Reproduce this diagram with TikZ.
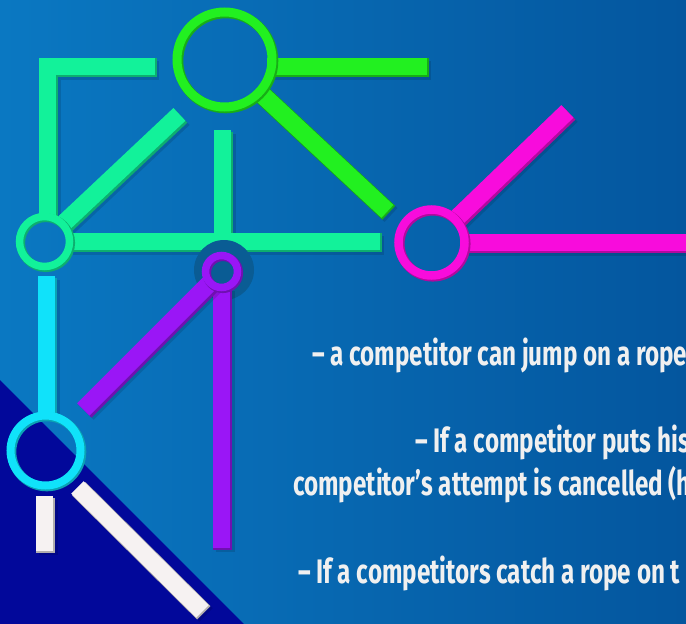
\documentclass[tikz,border=0pt]{standalone}
\usepackage{fontspec}
\newfontfamily\condfont[FakeStretch=0.712]{Fira Sans}
\usetikzlibrary{calc}
\definecolor{bgl}{HTML}{0A78C2}
\definecolor{bgr}{HTML}{04569E}
\definecolor{navy}{HTML}{02089A}
\definecolor{halo}{HTML}{0A5C94}
\definecolor{cgreen}{HTML}{22F020}
\definecolor{cmint}{HTML}{12F29A}
\definecolor{cpurple}{HTML}{9A16F6}
\definecolor{cmagenta}{HTML}{F80CDC}
\definecolor{ccyan}{HTML}{10E2FA}
\definecolor{cwhite}{HTML}{F6F2F2}
\definecolor{txt}{HTML}{F0F0F0}
\newcommand\myrod[3]{%
  \draw[line width=19pt, black, opacity=0.12] ([shift={(3,3)}]#2) -- ([shift={(3,3)}]#3);
  \draw[line width=19pt, #1!72!black] ([shift={(0.8,0.8)}]#2) -- ([shift={(0.8,0.8)}]#3);
  \draw[line width=17.5pt, #1] ([shift={(-0.6,-0.6)}]#2) -- ([shift={(-0.6,-0.6)}]#3);}
\newcommand\myring[4]{% color, centre, radius, width
  \draw[line width=#4+1pt, #1!72!black] ([shift={(0.8,0.8)}]#2) circle[radius=#3];
  \draw[line width=#4, #1] ([shift={(-0.5,-0.5)}]#2) circle[radius=#3];}
\tikzset{linetext/.style={anchor=base west, inner sep=0pt, text=txt,
  font=\condfont\bfseries\fontsize{34}{38}\selectfont}}
\begin{document}
\begin{tikzpicture}[x=1pt,y=-1pt]
\useasboundingbox (0,0) rectangle (686,624);
\clip (0,0) rectangle (686,624);
\shade[left color=bgl, right color=bgr] (0,0) rectangle (686,624);
\fill[navy] (0,380) -- (244,624) -- (0,624) -- cycle;
% centres
\coordinate (G) at (225,60);
\coordinate (M) at (45,242);
\coordinate (P) at (222,272);
\coordinate (K) at (432,243);
\coordinate (C) at (46,451);
% ends
\coordinate (g1a) at (268,67);
\coordinate (g1b) at (428,67);
\coordinate (g2b) at (388,212);
\coordinate (g2a) at ($(G)!45pt!(g2b)$);
\coordinate (mLa) at (156,67);
\coordinate (mLc) at (48,67);
\coordinate (mLb) at (48,218);
\coordinate (m2b) at (180,115);
\coordinate (m2a) at ($(M)!24pt!(m2b)$);
\coordinate (m3a) at (223,131);
\coordinate (m3b) at (223,242);
\coordinate (m4a) at (70,242);
\coordinate (m4b) at (381,242);
\coordinate (p1a) at (222,288);
\coordinate (p1b) at (222,549);
\coordinate (p2b) at (84,410);
\coordinate (p2a) at ($(P)!16pt!(p2b)$);
\coordinate (k1a) at (465,243);
\coordinate (k1b) at (700,243);
\coordinate (k2b) at (568,112);
\coordinate (k2a) at ($(K)!33pt!(k2b)$);
\coordinate (c1a) at (47,277);
\coordinate (c1b) at (47,416);
\coordinate (w1a) at (45,497);
\coordinate (w1b) at (45,552);
\coordinate (w2a) at (78,488);
\coordinate (w2b) at (203,612);
% green
\myrod{cgreen}{g1a}{g1b}
\myrod{cgreen}{g2a}{g2b}
% mint
\draw[line width=19pt, black, opacity=0.12, miter limit=10] ([shift={(3,3)}]mLa) -- ([shift={(3,3)}]mLc) -- ([shift={(3,3)}]mLb);
\draw[line width=19pt, cmint!72!black] ([shift={(0.8,0.8)}]mLa) -- ([shift={(0.8,0.8)}]mLc) -- ([shift={(0.8,0.8)}]mLb);
\draw[line width=17.5pt, cmint] ([shift={(-0.6,-0.6)}]mLa) -- ([shift={(-0.6,-0.6)}]mLc) -- ([shift={(-0.6,-0.6)}]mLb);
\myrod{cmint}{m2a}{m2b}
\myrod{cmint}{m3a}{m3b}
\myrod{cmint}{m4a}{m4b}
% magenta
\myrod{cmagenta}{k1a}{k1b}
\myrod{cmagenta}{k2a}{k2b}
% cyan, white
\myrod{ccyan}{c1a}{c1b}
\myrod{cwhite}{w1a}{w1b}
\myrod{cwhite}{w2a}{w2b}
% purple
\fill[halo] ([shift={(2,-2)}]P) circle[radius=30];
\myrod{cpurple}{p1a}{p1b}
\myrod{cpurple}{p2a}{p2b}
% rings
\myring{cgreen}{G}{47.5}{9pt}
\myring{cmint}{M}{25}{7.5pt}
\myring{cpurple}{P}{16}{7.5pt}
\myring{cmagenta}{K}{33}{8.5pt}
\myring{ccyan}{C}{35}{8pt}
% text
\node[linetext] (t1) at (312,365) {– a competitor can jump on a rope};
\node[linetext] (t2) at (415,452) {– If a competitor puts his};
\node[linetext] (t3) at (293,495) {competitor’s attempt is cancelled (h};
\node[linetext] (t4) at (298,583) {– If a competitors catch a rope on t};
\end{tikzpicture}
\end{document}
